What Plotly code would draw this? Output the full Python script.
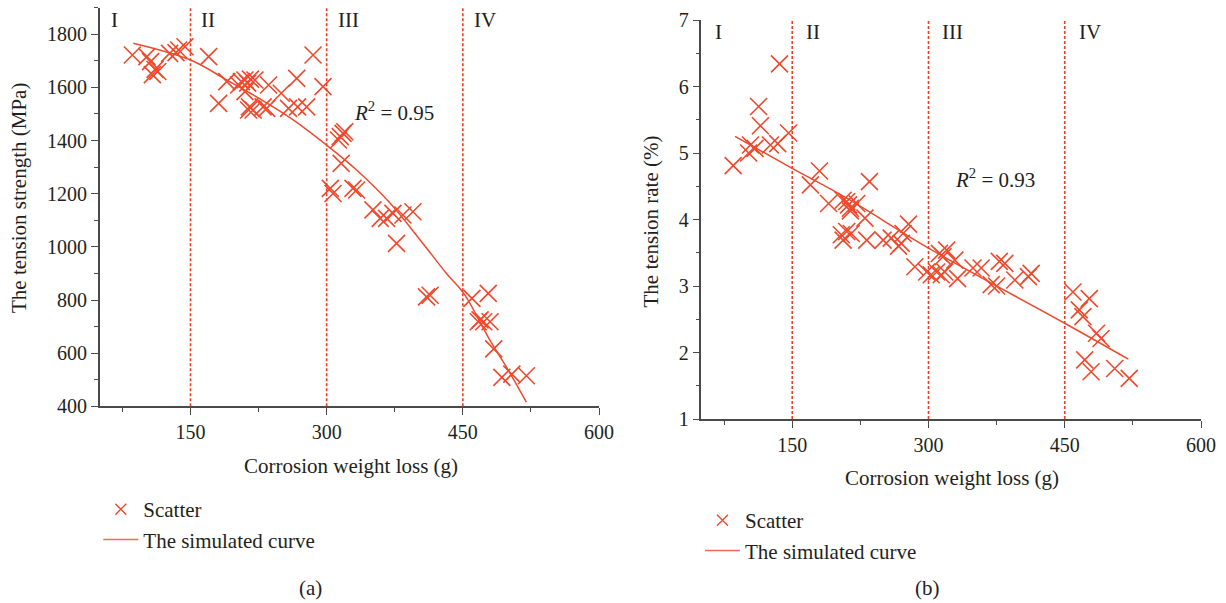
import plotly.graph_objects as go

# ---------------- data ----------------
# (a) tension strength vs corrosion weight loss
strength_x = [86, 102, 106, 111, 114, 108, 127, 134, 137, 144, 170, 181, 190, 203, 206, 210, 213, 216,
              221, 210, 215, 219, 214, 230, 234, 236, 250, 258, 267, 268, 278, 285, 296,
              313, 315, 318, 320, 316, 304, 307, 329, 333, 351, 359, 366, 373, 384, 395, 377,
              410, 414, 460, 478, 467, 469, 473, 480, 484, 493, 504, 520]
strength_y = [1722, 1716, 1697, 1668, 1660, 1648, 1728, 1731, 1741, 1753, 1716, 1540, 1622, 1609, 1622, 1628, 1616, 1631,
              1628, 1584, 1527, 1515, 1515, 1527, 1521, 1609, 1578, 1521, 1634, 1527, 1527, 1722, 1603,
              1402, 1415, 1427, 1433, 1314, 1220, 1201, 1220, 1214, 1139, 1107, 1107, 1126, 1120, 1132, 1013,
              812, 818, 806, 825, 718, 725, 718, 718, 616, 509, 521, 515]
strength_curve_x = [87, 150, 190, 216, 260, 302, 333, 370, 406, 432, 451, 480, 498, 520]
strength_curve_y = [1766, 1703, 1628, 1578, 1485, 1377, 1289, 1164, 1013, 900, 825, 648, 548, 416]

# (b) tension rate vs corrosion weight loss
rate_x = [85, 102, 104, 109, 113, 115, 126, 134, 136, 146, 170, 180, 190, 206, 210, 212, 214, 214, 221, 230, 235,
          204, 210, 215, 206, 232, 250, 259, 267, 272, 278, 270, 285, 298, 303, 309, 314, 318, 312, 320, 316,
          329, 332, 349, 358, 369, 375, 378, 384, 395, 410, 413, 459, 477, 466, 470, 485, 490, 472, 479, 505, 521]
rate_y = [4.81, 5.00, 5.12, 5.07, 5.70, 5.41, 5.12, 5.14, 6.34, 5.30, 4.52, 4.73, 4.24, 4.29, 4.27, 4.22, 4.17, 4.13, 4.24, 4.02, 4.57,
          3.77, 3.82, 3.79, 3.69, 3.69, 3.69, 3.72, 3.60, 3.79, 3.93, 3.64, 3.29, 3.21, 3.17, 3.21, 3.17, 3.21, 3.49, 3.54, 3.44,
          3.39, 3.11, 3.27, 3.27, 3.02, 3.00, 3.37, 3.34, 3.09, 3.14, 3.19, 2.91, 2.81, 2.64, 2.54, 2.29, 2.21, 1.89, 1.71, 1.76, 1.61]
rate_curve_x = [87, 150, 210, 300, 450, 520]
rate_curve_y = [5.25, 4.77, 4.32, 3.57, 2.44, 1.90]

region_bounds = [150, 300, 450]
region_starts = [50, 150, 300, 450]
region_labels = ["I", "II", "III", "IV"]
x_ticks = [150, 300, 450, 600]

# ---------------- style ----------------
RED = "#EF4A2D"
FONT = "Liberation Serif"
TXT = "#231F20"
AX = "#4A4A4A"
W, H = 1226, 603

fig = go.Figure()

for xs, ys, cx, cy, xa_id, ya_id, leg in [
    (strength_x, strength_y, strength_curve_x, strength_curve_y, "x", "y", "legend"),
    (rate_x, rate_y, rate_curve_x, rate_curve_y, "x2", "y2", "legend2"),
]:
    fig.add_trace(go.Scatter(x=xs, y=ys, mode="markers", name="Scatter", showlegend=False,
                             marker=dict(symbol="x-thin", size=17, line=dict(width=1.6, color=RED), color=RED),
                             xaxis=xa_id, yaxis=ya_id))
    fig.add_trace(go.Scatter(x=cx, y=cy, mode="lines", name="The simulated curve", showlegend=False,
                             line=dict(color=RED, width=1.5, shape="spline"), xaxis=xa_id, yaxis=ya_id))
    # legend entries (no data points)
    fig.add_trace(go.Scatter(x=[None], y=[None], mode="markers", name="Scatter",
                             marker=dict(symbol="x-thin", size=11, line=dict(width=1.4, color=RED), color=RED),
                             xaxis=xa_id, yaxis=ya_id, legend=leg))
    fig.add_trace(go.Scatter(x=[None], y=[None], mode="lines", name="The simulated curve",
                             line=dict(color="#F26A55", width=1.6), xaxis=xa_id, yaxis=ya_id, legend=leg))


def px_x(p):
    return p / W


def px_y(p):
    return 1 - p / H


common_axis = dict(showline=True, linecolor=AX, linewidth=1.5, ticks="outside", ticklen=7, tickwidth=1.3,
                   tickcolor=AX, showgrid=False, zeroline=False, mirror=False, automargin=False,
                   tickfont=dict(family=FONT, size=20, color=TXT))

xa = dict(common_axis, range=[50, 600], tickmode="array", tickvals=x_ticks,
          minor=dict(ticks="outside", ticklen=4, tickcolor=AX, tickwidth=1.2, tickmode="array",
                     tickvals=[75, 225, 375, 525]))

fig.update_layout(
    template="simple_white",
    width=W, height=H, autosize=False, margin=dict(l=0, r=0, t=0, b=0, pad=0, autoexpand=False),
    paper_bgcolor="white", plot_bgcolor="white",
    font=dict(family=FONT, color=TXT, size=21),
    xaxis=dict(xa, domain=[px_x(99.7), px_x(599)], anchor="y"),
    yaxis=dict(common_axis, range=[400, 1900], tick0=400, dtick=200, anchor="x",
               domain=[px_y(406.3), px_y(7.7)],
               minor=dict(ticks="outside", ticklen=4, tickcolor=AX, tickwidth=1.2, dtick=100)),
    xaxis2=dict(xa, domain=[px_x(701.4), px_x(1201)], anchor="y2"),
    yaxis2=dict(common_axis, range=[1, 7], tick0=1, dtick=1, anchor="x2",
                domain=[px_y(419), px_y(20)],
                minor=dict(ticks="outside", ticklen=4, tickcolor=AX, tickwidth=1.2, dtick=0.5)),
    legend=dict(x=px_x(98.3), y=px_y(489), xanchor="left", yanchor="top", bgcolor="rgba(0,0,0,0)",
                font=dict(family=FONT, size=21, color=TXT), itemwidth=35, tracegroupgap=0),
    legend2=dict(x=px_x(700), y=px_y(500), xanchor="left", yanchor="top", bgcolor="rgba(0,0,0,0)",
                 font=dict(family=FONT, size=21, color=TXT), itemwidth=35, tracegroupgap=0),
    showlegend=True,
)

shapes = []
for xr, yr in [("x", "y"), ("x2", "y2")]:
    for b in region_bounds:
        shapes.append(dict(type="line", xref=xr, yref=yr + " domain", x0=b, x1=b, y0=0, y1=1,
                           layer="above", opacity=1,
                           line=dict(color="#EE3F25", width=1.6, dash="3px,2px")))
fig.update_layout(shapes=shapes)

ann = []
for xr, yr, ypos, shift in [("x", "y", 0.969, 9), ("x2", "y2", 0.971, 12)]:
    for s, lab in zip(region_starts, region_labels):
        ann.append(dict(x=s, y=ypos, xref=xr, yref=yr + " domain", text=lab, showarrow=False,
                        xanchor="left", yanchor="middle", xshift=shift, font=dict(size=21)))


def pann(x, y, text, **kw):
    d = dict(x=px_x(x), y=px_y(y), xref="paper", yref="paper", text=text, showarrow=False,
             xanchor="center", yanchor="middle", font=dict(size=21))
    d.update(kw)
    return d


ann += [
    dict(x=374, y=1511, xref="x", yref="y", text="<i>R</i><sup>2</sup> = 0.95", showarrow=False,
         xanchor="center", yanchor="middle", font=dict(size=21)),
    dict(x=373, y=4.62, xref="x2", yref="y2", text="<i>R</i><sup>2</sup> = 0.93", showarrow=False,
         xanchor="center", yanchor="middle", font=dict(size=21)),
    pann(350.5, 465.7, "Corrosion weight loss (g)"),
    pann(952, 478, "Corrosion weight loss (g)"),
    pann(19, 198, "The tension strength (MPa)", textangle=-90),
    pann(651, 221.5, "The tension rate (%)", textangle=-90),
    pann(310, 588, "(a)"),
    pann(927, 588, "(b)"),
]
fig.update_layout(annotations=ann)

fig.write_html("out.html")
